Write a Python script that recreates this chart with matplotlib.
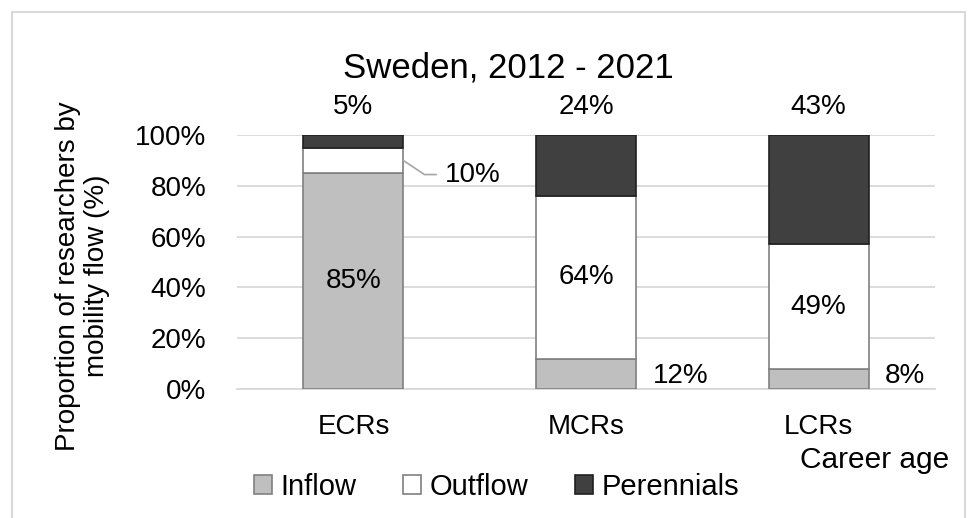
import matplotlib.pyplot as plt
from matplotlib.patches import Rectangle

plt.rcParams['font.family'] = ['Liberation Sans', 'DejaVu Sans']

# mobility flow shares by career stage (%)
groups = ['ECRs', 'MCRs', 'LCRs']
inflow = [85, 12, 8]
outflow = [10, 64, 49]
perennials = [5, 24, 43]

fig = plt.figure(figsize=(9.72, 5.18), dpi=100)
ax = fig.add_axes([0.244, 0.249, 0.718, 0.49])

x = range(len(groups))
w = 0.43
bottom2 = [a + b for a, b in zip(inflow, outflow)]
b1 = ax.bar(x, inflow, w, color='#bfbfbf', edgecolor='#808080', lw=1.2, label='Inflow', zorder=3)
b2 = ax.bar(x, outflow, w, bottom=inflow, color='white', edgecolor='#808080', lw=1.2,
            label='Outflow', zorder=3)
b3 = ax.bar(x, perennials, w, bottom=bottom2, color='#404040', edgecolor='#202020', lw=1.2,
            label='Perennials', zorder=3)

ax.set_ylim(0, 100)
ax.set_xlim(-0.5, 2.5)
ax.set_yticks(range(0, 101, 20))
ax.set_yticklabels([f'{v}%' for v in range(0, 101, 20)])
ax.set_xticks(list(x))
ax.set_xticklabels(groups)
ax.tick_params(axis='both', length=0, labelsize=20)
ax.tick_params(axis='y', pad=22)
ax.tick_params(axis='x', pad=18)
ax.grid(axis='y', color='#d9d9d9', lw=1.3, zorder=0)
for s in ['top', 'right', 'left']:
    ax.spines[s].set_visible(False)
ax.spines['bottom'].set_color('#d9d9d9')
ax.spines['bottom'].set_linewidth(1.3)

ax.set_ylabel('Proportion of researchers by\nmobility flow (%)', fontsize=20,
              linespacing=1.15)
ax.yaxis.set_label_coords(-0.182, 0.445)
fig.text(0.523, 0.869, 'Sweden, 2012 - 2021', ha='center', va='center', fontsize=25)

# perennials labels above the bars
for i, v in enumerate(perennials):
    ax.text(i, 111, f'{v}%', ha='center', va='center', fontsize=20, clip_on=False)

# middle labels
ax.text(0, inflow[0] / 2, f'{inflow[0]}%', ha='center', va='center', fontsize=20, zorder=4)
for i in (1, 2):
    ax.text(i, inflow[i] + outflow[i] / 2, f'{outflow[i]}%', ha='center', va='center',
            fontsize=20, zorder=4)

# small inflow labels to the right of the bars
for i in (1, 2):
    ax.text(i + w / 2 + 0.07, 5, f'{inflow[i]}%', ha='left', va='center', fontsize=20, zorder=4)

# ECRs outflow label with leader line
ax.plot([w / 2, w / 2 + 0.09, w / 2 + 0.14], [inflow[0] + outflow[0] / 2, 84.5, 84.5],
        color='#a6a6a6', lw=1.2, zorder=4, clip_on=False)
ax.text(w / 2 + 0.18, 84.5, f'{outflow[0]}%', ha='left', va='center', fontsize=20)

fig.text(0.977, 0.112, 'Career age', ha='right', va='center', fontsize=21.5)

fig.legend(handles=[b1, b2, b3], loc='center', bbox_to_anchor=(0.511, 0.06), ncol=3,
           frameon=False, fontsize=21, handlelength=0.6, handleheight=0.6,
           handletextpad=0.3, columnspacing=1.6)

# light outer frame
fig.patches.append(Rectangle((12 / 972, -0.05), 953 / 972, 1.05 - 12 / 518, transform=fig.transFigure,
                             fill=False, edgecolor='#d9d9d9', lw=1.5))

fig.savefig('out.png', dpi=100)
